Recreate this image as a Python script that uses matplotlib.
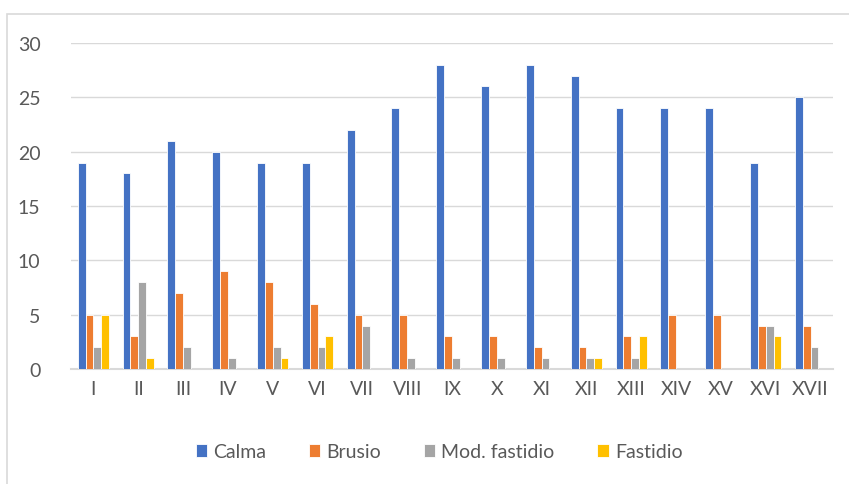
import matplotlib
matplotlib.use("Agg")
import matplotlib.pyplot as plt
import numpy as np
from matplotlib.patches import Rectangle

categories = ["I", "II", "III", "IV", "V", "VI", "VII", "VIII", "IX", "X",
              "XI", "XII", "XIII", "XIV", "XV", "XVI", "XVII"]
calma = [19, 18, 21, 20, 19, 19, 22, 24, 28, 26, 28, 27, 24, 24, 24, 19, 25]
brusio = [5, 3, 7, 9, 8, 6, 5, 5, 3, 3, 2, 2, 3, 5, 5, 4, 4]
mod_fastidio = [2, 8, 2, 1, 2, 2, 4, 1, 1, 1, 1, 1, 1, 0, 0, 4, 2]
fastidio = [5, 1, 0, 0, 1, 3, 0, 0, 0, 0, 0, 1, 3, 0, 0, 3, 0]
series_names = ["Calma", "Brusio", "Mod. fastidio", "Fastidio"]
colors = ["#4472C4", "#ED7D31", "#A5A5A5", "#FFC000"]

plt.rcParams['font.family'] = ['Lato', 'DejaVu Sans']
txt = "#595959"

fig = plt.figure(figsize=(8.49, 4.85), dpi=100)
fig.patches.append(Rectangle((7/849, -0.1), 1.2, 0.969 + 0.1, transform=fig.transFigure,
                             facecolor="none", edgecolor="#D9D9D9", lw=1.2, zorder=0))
ax = fig.add_axes([71/849, 1 - 370/485, (833 - 71)/849, (370 - 44)/485])

x = np.arange(len(categories))
w = 0.175
data = [calma, brusio, mod_fastidio, fastidio]
for i, (vals, name, c) in enumerate(zip(data, series_names, colors)):
    ax.bar(x + (i - 1.5) * w, vals, width=w, color=c, edgecolor="white", linewidth=0.6,
           label=name, zorder=3)

ax.set_xlim(-0.5, len(categories) - 0.5)
ax.set_ylim(0, 30)
ax.set_yticks(range(0, 31, 5))
ax.set_xticks(x)
ax.set_xticklabels(categories)
ax.yaxis.grid(True, color="#D9D9D9", lw=1.0, zorder=0)
for s in ["top", "right", "left"]:
    ax.spines[s].set_visible(False)
ax.spines["bottom"].set_color("#D9D9D9")
ax.spines["bottom"].set_linewidth(1.5)
ax.tick_params(axis="both", length=0, labelsize=14, colors=txt)
ax.tick_params(axis="x", pad=8)
ax.tick_params(axis="y", pad=22)

leg = fig.legend(loc="center", bbox_to_anchor=(439/849, 1 - 453/485), ncol=4, frameon=False,
                 fontsize=14, handlelength=0.6, handleheight=0.6, columnspacing=2.2,
                 handletextpad=0.3, labelcolor=txt)

fig.savefig("out.png", dpi=100)
